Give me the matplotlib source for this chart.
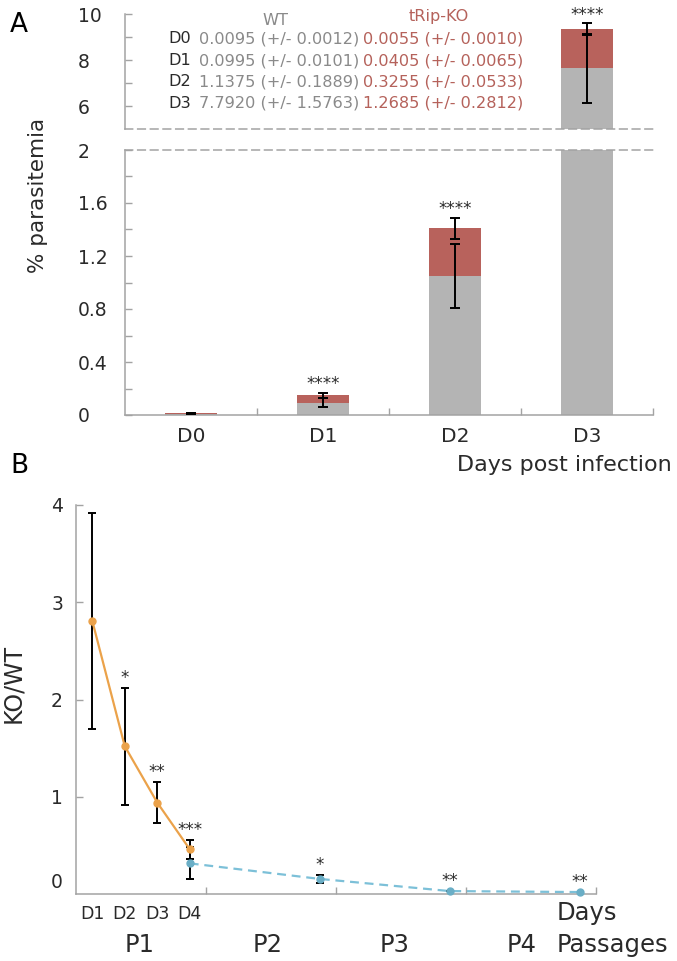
import matplotlib
matplotlib.use('Agg')
import matplotlib.pyplot as plt
import numpy as np
from matplotlib.transforms import ScaledTranslation

plt.rcParams['font.family'] = ['DejaVu Sans']

# ---------------- data: panel A ----------------
days_A = ['D0', 'D1', 'D2', 'D3']
wt_bar = [0.0095, 0.093, 1.05, 7.65]
ko_bar = [0.0055, 0.057, 0.36, 1.70]
wt_err = [0.0012, 0.032, 0.24, 1.5]
ko_err = [0.0010, 0.018, 0.08, 0.25]
stars_A = ['', '****', '****', '****']

# summary table (mean +/- sem)
table_days = ['D0', 'D1', 'D2', 'D3']
wt_mean_tab = [0.0095, 0.0995, 1.1375, 7.7920]
wt_sd_tab = [0.0012, 0.0101, 0.1889, 1.5763]
ko_mean_tab = [0.0055, 0.0405, 0.3255, 1.2685]
ko_sd_tab = [0.0010, 0.0065, 0.0533, 0.2812]

# ---------------- data: panel B ----------------
p1_days = ['D1', 'D2', 'D3', 'D4']
p1_x = [0.5, 1.5, 2.5, 3.5]
p1_ratio = [2.81, 1.52, 0.94, 0.46]
p1_err = [1.11, 0.60, 0.21, 0.10]
p1_stars = ['', '*', '**', '***']

pass_x = [3.5, 7.5, 11.5, 15.5]
pass_ratio = [0.315, 0.155, 0.03, 0.02]
pass_err = [0.165, 0.045, 0.0, 0.0]
pass_stars = ['', '*', '**', '**']
passages = ['P1', 'P2', 'P3', 'P4']

# ---------------- style ----------------
W, H = 677, 961
fig = plt.figure(figsize=(W / 100, H / 100), dpi=100)


def fx(px):
    return px / W


def fy(py):
    return 1 - py / H


SPINE = '#a3a3a3'
TXT = '#2a2a2a'
BAR_GRAY = '#b4b4b4'
BAR_RED = '#b8625c'
WT_TXT = '#8a8a8a'
KO_TXT = '#b5625b'
ORANGE = '#eba24a'
BLUE = '#7cc0d8'
BLUE_M = '#6aaec6'
DASH = (0, (5, 3.3))

TICK_FS = 13.5
TAB_FS = 11.6

# ---------------- panel A ----------------
axL = fig.add_axes([fx(125), fy(415), (653 - 125) / W, (415 - 150) / H])
axU = fig.add_axes([fx(125), fy(129), (653 - 125) / W, (129 - 14) / H])

xA = np.arange(len(days_A))
tot = np.array(wt_bar) + np.array(ko_bar)
for ax in (axL, axU):
    ax.bar(xA, wt_bar, width=0.4, color=BAR_GRAY, zorder=2)
    ax.bar(xA, ko_bar, width=0.4, bottom=wt_bar, color=BAR_RED, zorder=2)
    ax.errorbar(xA, wt_bar, yerr=wt_err, fmt='none', ecolor='black',
                elinewidth=1.4, capsize=3.6, capthick=1.4, zorder=3)
    ax.errorbar(xA, tot, yerr=ko_err, fmt='none', ecolor='black',
                elinewidth=1.4, capsize=3.6, capthick=1.4, zorder=3)
    for xi, top, s in zip(xA, tot + np.array(ko_err), stars_A):
        if s:
            ax.annotate(s, xy=(xi, top), xytext=(0, 6), textcoords='offset points',
                        ha='center', va='center', fontsize=12, color=TXT)
    ax.set_xlim(-0.5, 3.5)
    ax.spines['right'].set_visible(False)
    for sp in ax.spines.values():
        sp.set_color(SPINE)
        sp.set_linewidth(1.1)
    ax.tick_params(axis='y', which='both', direction='in', color=SPINE,
                   labelcolor=TXT, labelsize=TICK_FS, pad=33.8)
    ax.tick_params(axis='y', which='major', length=5, width=1)
    ax.tick_params(axis='y', which='minor', length=5, width=1)

axL.set_ylim(0, 2)
lv = np.arange(0, 2.01, 0.4)
axL.set_yticks(lv, ['0', '0.4', '0.8', '1.2', '1.6', '2'])
axL.set_yticks(np.arange(0.2, 2, 0.4), minor=True)
axL.set_xticks(xA, days_A)
axL.set_xticks([0.5, 1.5, 2.5, 3.5], minor=True)
axL.tick_params(axis='x', which='major', length=0, labelsize=14.5, labelcolor=TXT, pad=9)
axL.tick_params(axis='x', which='minor', direction='in', length=5, width=1, color=SPINE)
axL.spines['top'].set_linestyle(DASH)

axU.set_ylim(5, 10)
axU.set_yticks([6, 8, 10], ['6', '8', '10'])
axU.set_yticks([7, 9], minor=True)
axU.set_xticks([])
axU.spines['top'].set_visible(False)
axU.spines['bottom'].set_linestyle(DASH)

for ax in (axL, axU):
    for lab in ax.get_yticklabels():
        lab.set_ha('left')

# table
fig.text(fx(275), fy(25), 'WT', ha='center', va='baseline', fontsize=TAB_FS, color=WT_TXT)
fig.text(fx(439), fy(20.5), 'tRip-KO', ha='center', va='baseline', fontsize=TAB_FS, color=KO_TXT)
row_base = [43, 65, 86.5, 108]
for d, wm, ws, km, ks, yb in zip(table_days, wt_mean_tab, wt_sd_tab, ko_mean_tab, ko_sd_tab, row_base):
    fig.text(fx(168), fy(yb), d, ha='left', va='baseline', fontsize=TAB_FS, color=TXT)
    fig.text(fx(199), fy(yb), f'{wm:.4f} (+/- {ws:.4f})', ha='left', va='baseline',
             fontsize=TAB_FS, color=WT_TXT)
    fig.text(fx(363), fy(yb), f'{km:.4f} (+/- {ks:.4f})', ha='left', va='baseline',
             fontsize=TAB_FS, color=KO_TXT)

fig.text(fx(38), fy(195), '% parasitemia', rotation=90, ha='center', va='center',
         fontsize=15.5, color=TXT)
fig.text(fx(672), fy(471), 'Days post infection', ha='right', va='baseline',
         fontsize=16, color=TXT)
fig.text(fx(10), fy(32), 'A', ha='left', va='baseline', fontsize=19, color='black')
fig.text(fx(10), fy(473), 'B', ha='left', va='baseline', fontsize=19, color='black')

# ---------------- panel B ----------------
axB = fig.add_axes([fx(76), fy(894), (596 - 76) / W, (894 - 505) / H])
axB.set_xlim(0, 16)
axB.set_ylim(0, 4)

axB.errorbar(p1_x, p1_ratio, yerr=p1_err, fmt='none', ecolor='black',
             elinewidth=1.4, capsize=2.6, capthick=1.4, zorder=2)
axB.errorbar(pass_x, pass_ratio, yerr=pass_err, fmt='none', ecolor='black',
             elinewidth=1.4, capsize=2.6, capthick=1.4, zorder=2)
axB.plot(pass_x, pass_ratio, color=BLUE, lw=1.6, ls=(0, (4, 2.6)), marker='o',
         ms=5, mfc=BLUE_M, mec=BLUE_M, zorder=3, clip_on=False)
axB.plot(p1_x, p1_ratio, color=ORANGE, lw=1.6, marker='o', ms=5, zorder=4)

for xs, ys, es, ss in ((p1_x, p1_ratio, p1_err, p1_stars),
                       (pass_x, pass_ratio, pass_err, pass_stars)):
    for xi, yi, ei, s in zip(xs, ys, es, ss):
        if s:
            axB.annotate(s, xy=(xi, yi + ei), xytext=(0, 7), textcoords='offset points',
                         ha='center', va='center', fontsize=12, color=TXT)

for k in ('top', 'right'):
    axB.spines[k].set_visible(False)
for sp in ('left', 'bottom'):
    axB.spines[sp].set_color(SPINE)
    axB.spines[sp].set_linewidth(1.1)

axB.set_yticks([1, 2, 3, 4], ['1', '2', '3', '4'])
axB.tick_params(axis='y', direction='in', length=5, width=1, color=SPINE,
                labelcolor=TXT, labelsize=TICK_FS, pad=9.4)
axB.text(0, 0, '0', transform=axB.transData + ScaledTranslation(-13 / 100, 12 / 100, fig.dpi_scale_trans),
         ha='right', va='center', fontsize=TICK_FS, color=TXT)
axB.set_xticks(p1_x, p1_days)
axB.set_xticks([4, 8, 12, 16], minor=True)
axB.tick_params(axis='x', which='major', length=0, labelsize=12.5, labelcolor=TXT, pad=8)
axB.tick_params(axis='x', which='minor', direction='in', length=5, width=1, color=SPINE)

passage_label_px = [140, 268, 395, 522]
for p, px in zip(passages, passage_label_px):
    fig.text(fx(px), fy(952), p, ha='center', va='baseline', fontsize=17.5, color=TXT)
fig.text(fx(557), fy(920), 'Days', ha='left', va='baseline', fontsize=17.5, color=TXT)
fig.text(fx(557), fy(952), 'Passages', ha='left', va='baseline', fontsize=17.5, color=TXT)
fig.text(fx(13), fy(683), 'KO/WT', rotation=90, ha='center', va='center',
         fontsize=17, color=TXT)

fig.savefig('out.png', dpi=100)
